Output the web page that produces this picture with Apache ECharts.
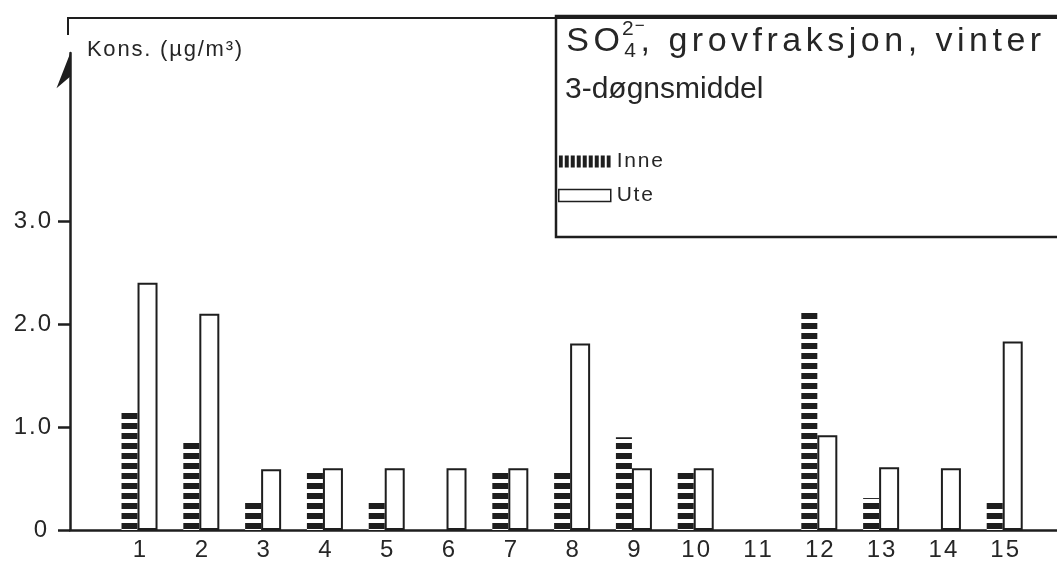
<!DOCTYPE html>
<html><head><meta charset="utf-8">
<script src="https://cdn.jsdelivr.net/npm/echarts@6/dist/echarts.min.js"></script>
<style>html,body{margin:0;padding:0;background:#fff}#c{width:1057px;height:562px}</style>
</head><body><div id="c"></div>
<script>
// ---- data ----
const categories = [1, 2, 3, 4, 5, 6, 7, 8, 9, 10, 11, 12, 13, 14, 15];
const inne = [1.16, 0.87, 0.28, 0.59, 0.27, null, 0.57, 0.57, 0.90, 0.59, null, 2.12, 0.31, null, 0.30];
const ute  = [2.40, 2.10, 0.59, 0.60, 0.60, 0.60, 0.60, 1.81, 0.60, 0.60, null, 0.92, 0.61, 0.60, 1.83];
const yTickValues = [0, 1, 2, 3];
const seriesNames = ['Inne', 'Ute'];
const titleMain = ', grovfraksjon, vinter';
const titleSub = '3-døgnsmiddel';
const yAxisName = 'Kons. (µg/m³)';

const INK = '#1e1e1e';
const TXT = '#262626';
const FONT = '"Liberation Sans", Arial, Helvetica, sans-serif';

// letter-spaced text through rich tokens
function tracked(str, key) {
  return String(str).split('').map(ch => '{' + key + '|' + ch + '}').join('');
}
function trStyle(size, track, extra) {
  return Object.assign({ fontSize: size, fontFamily: FONT, color: TXT, fontWeight: 'normal', padding: [0, track / 2] }, extra || {});
}

function makePattern(w, h, rects) {
  const c = document.createElement('canvas');
  c.width = w; c.height = h;
  const ctx = c.getContext('2d');
  ctx.fillStyle = '#ffffff';
  ctx.fillRect(0, 0, w, h);
  ctx.fillStyle = INK;
  rects.forEach(r => ctx.fillRect(r[0], r[1], r[2], r[3]));
  return { image: c, repeat: 'repeat' };
}
const hStripes = makePattern(4, 10, [[0, 3, 4, 6]]);
const vStripes = makePattern(6, 4, [[0, 0, 4, 4]]);

const chart = echarts.init(document.getElementById('c'), null, { renderer: 'canvas' });

const option = {
  backgroundColor: '#ffffff',
  animation: false,
  textStyle: { fontFamily: FONT },
  title: [
    {
      left: 559, top: 17,
      text: tracked('SO', 'a') + tracked('4', 's') + tracked(titleMain, 'a'),
      textStyle: {
        rich: {
          a: trStyle(34, 4.5, { lineHeight: 40, verticalAlign: 'middle' }),
          s: trStyle(21, 4.5, { lineHeight: 24, verticalAlign: 'bottom' })
        }
      }
    },
    {
      left: 617, top: 13,
      text: '{b|2}{m|−}',
      textStyle: {
        rich: {
          b: trStyle(21, 0),
          m: trStyle(17, 0, { padding: [0, 0, 6, 1] })
        }
      }
    },
    {
      left: 560, top: 70,
      text: titleSub,
      textStyle: { fontSize: 30, fontFamily: FONT, color: TXT, fontWeight: 'normal' }
    }
  ],
  legend: {
    orient: 'vertical',
    left: 553, top: 146,
    itemWidth: 52, itemHeight: 12, itemGap: 13,
    icon: 'rect',
    formatter: name => tracked(name, 'l'),
    textStyle: { fontSize: 21, color: TXT, fontFamily: FONT, rich: { l: trStyle(21, 1.8) } },
    data: [
      { name: seriesNames[0], itemStyle: { color: vStripes, borderWidth: 0 } },
      { name: seriesNames[1], itemStyle: { color: '#ffffff', borderColor: INK, borderWidth: 1.5 } }
    ]
  },
  grid: { left: 70, right: 0, top: 53, bottom: 30, containLabel: false },
  xAxis: {
    type: 'value',
    min: -0.125, max: 15.846,
    axisLine: { show: true, onZero: false, lineStyle: { color: INK, width: 2.5 } },
    axisTick: { show: false },
    splitLine: { show: false },
    axisLabel: {
      customValues: categories,
      margin: 8,
      formatter: v => tracked(v, 'x'),
      rich: { x: trStyle(24, 2) }
    }
  },
  yAxis: {
    type: 'value',
    min: 0, max: 4.63,
    name: tracked(yAxisName, 'n'),
    nameLocation: 'end',
    nameGap: 3,
    nameTextStyle: {
      align: 'left', verticalAlign: 'middle', padding: [0, 0, 0, 16],
      rich: { n: trStyle(22, 1.8) }
    },
    axisLine: {
      show: true,
      onZero: false,
      lineStyle: { color: INK, width: 2.5 },
      symbol: ['none', 'path://M14,0 L14,24 L0,36 Z M27.9,35.9 L28,36 L27.9,36 Z'],
      symbolSize: [27, 36],
      symbolOffset: [0, -18]
    },
    axisTick: { show: true, customValues: yTickValues, length: 12, lineStyle: { color: INK, width: 2.5 } },
    splitLine: { show: false },
    axisLabel: {
      customValues: yTickValues,
      margin: 18,
      formatter: v => v === 0 ? tracked('0', 'z') : tracked(v.toFixed(1), 'y'),
      rich: {
        y: trStyle(24, 2),
        z: trStyle(24, 2, { padding: [0, 5, 0, 1] })
      }
    }
  },
  graphic: [
    { type: 'polyline', silent: true, shape: { points: [[68, 35], [68, 18], [1057, 18]] }, style: { stroke: INK, lineWidth: 2, fill: null } },
    { type: 'rect', silent: true, shape: { x: 556, y: 16, width: 520, height: 221 }, style: { stroke: INK, lineWidth: 2.5, fill: null } }
  ],
  series: [
    {
      name: seriesNames[0], type: 'bar',
      data: categories.map((c, i) => [c, inne[i]]),
      barWidth: 16, barGap: '0%',
      itemStyle: { color: hStripes, borderWidth: 0 }
    },
    {
      name: seriesNames[1], type: 'bar',
      data: categories.map((c, i) => [c, ute[i]]),
      barWidth: 20, barGap: '0%',
      itemStyle: { color: '#ffffff', borderColor: INK, borderWidth: 2 }
    }
  ]
};
chart.setOption(option);
</script>
</body></html>
